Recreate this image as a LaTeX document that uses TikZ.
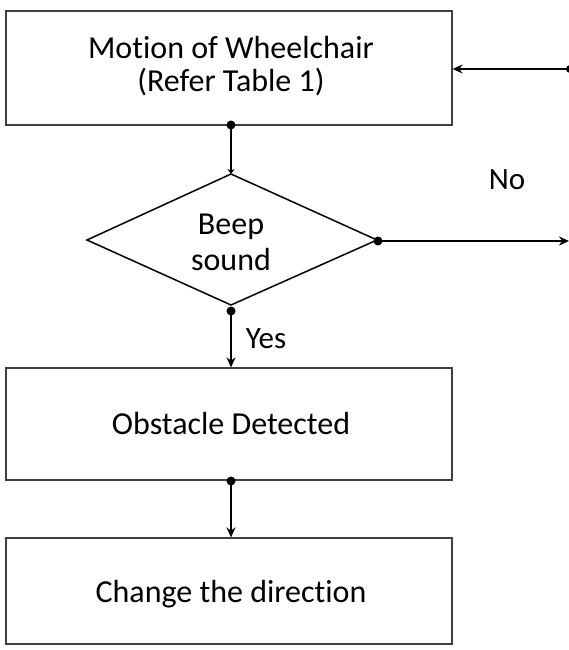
\documentclass[tikz,border=0pt]{standalone}
\usepackage{fontspec}
\setmainfont{Carlito}[Ligatures={NoCommon}]
\usetikzlibrary{arrows.meta}
\tikzset{
  box/.style={draw=black!75, line width=1.2pt, minimum width=446pt, minimum height=114pt, inner sep=0pt},
  txt/.style={align=center, inner sep=0pt, font=\fontsize{32}{33}\selectfont},
  conn/.style={draw=black, line width=2pt, -{Stealth[length=10pt,width=9pt]}},
  lbl/.style={font=\fontsize{31}{33}\selectfont, inner sep=0pt},
  dotc/.style={circle, fill=black, inner sep=0pt, minimum size=9pt}
}
\begin{document}
\begin{tikzpicture}[x=1pt,y=-1pt]
\useasboundingbox (0,0) rectangle (569,650);
\node[box] (motion) at (229,68) {};
\node[txt] (motiont) at (231,66) {Motion of Wheelchair\\(Refer Table 1)};
\coordinate (dT) at (231,174);
\coordinate (dR) at (377,240);
\coordinate (dB) at (231,305);
\coordinate (dL) at (87,240);
\draw[line width=1.5pt, line join=miter] (dT) -- (dR) -- (dB) -- (dL) -- cycle;
\node[txt, font=\fontsize{32}{36}\selectfont] (beep) at (231,242) {Beep\\sound};
\node[box, minimum height=112pt] (obst) at (229,424) {};
\node[txt] (obstt) at (231,424) {Obstacle Detected};
\node[box, minimum height=106pt] (change) at (229,591) {};
\node[txt] (changet) at (231,594) {Change the direction};
\node[dotc] (d1) at (231,125) {};
\node[dotc] (d2) at (231,311) {};
\node[dotc] (d3) at (378,241) {};
\node[dotc] (d4) at (231,481) {};
\coordinate (rin) at (568,69);
\coordinate (rout) at (569,241);
\node[dotc, minimum size=8pt] (d5) at (570,69) {};
\draw[conn, -{Stealth[length=5pt,width=7pt]}] (d1.center) -- (dT);
\draw[conn] (d2.center) -- (obst.north -| d2);
\draw[conn] (d4.center) -- (change.north -| d4);
\draw[conn] (d3.center) -- (rout);
\draw[conn] (rin) -- (motion.east |- rin);
\node[lbl] (no) at (507,180) {No};
\node[lbl] (yes) at (266,339) {Yes};
\end{tikzpicture}
\end{document}
